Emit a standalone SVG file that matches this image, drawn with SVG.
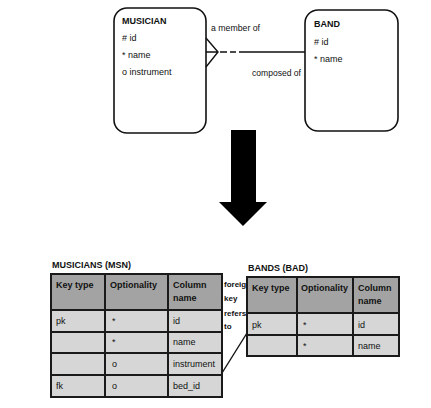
<svg xmlns="http://www.w3.org/2000/svg" width="431" height="408" viewBox="0 0 431 408">
<style>
.ent{fill:#fff;stroke:#111;stroke-width:1.6}
.t{font-family:"Liberation Sans",Arial,sans-serif;font-size:9px;fill:#111}
.b{font-weight:bold}
.s{font-size:8px}
.h{fill:#a3a3a3;stroke:#1a1a1a;stroke-width:2}
.c{fill:#d6d6d6;stroke:#1a1a1a;stroke-width:2}
.ln{stroke:#111;stroke-width:1.4;fill:none}
</style>
<rect width="431" height="408" fill="#fff"/>
<g id="musician">
<rect class="ent" x="114" y="8" width="92" height="125" rx="13"/>
<text class="t b" x="122" y="24">MUSICIAN</text>
<text class="t" x="122" y="41"># id</text>
<text class="t" x="122" y="58">* name</text>
<text class="t" x="122" y="75">o instrument</text>
</g>
<g id="band">
<rect class="ent" x="305" y="10" width="93" height="121" rx="13"/>
<text class="t b" x="314" y="27">BAND</text>
<text class="t" x="314" y="45"># id</text>
<text class="t" x="314" y="62">* name</text>
</g>
<g id="connectors">
<path class="ln" d="M206 38 L218 52 L206 67 M206 52 L218 52"/>
<path class="ln" d="M220 52 H227 M230 52 H236 M239 52 H305"/>
<text class="t" x="211" y="31" textLength="49" lengthAdjust="spacingAndGlyphs">a member of</text>
<text class="t" x="252" y="76" textLength="49" lengthAdjust="spacingAndGlyphs">composed of</text>
<path d="M231 130 H256 V202 H267 L243 226 L219 202 H231 Z" fill="#000"/>
<path class="ln" d="M222 373 L247 333"/>
<text class="t b s" x="224" y="287">foreign</text>
<text class="t b s" x="224" y="301">key</text>
<text class="t b s" x="224" y="316">refers</text>
<text class="t b s" x="224" y="329">to</text>
</g>
<g id="musicians-table">
<text class="t b" x="52" y="268">MUSICIANS (MSN)</text>
<rect class="h" x="51" y="274" width="54" height="36"/>
<rect class="h" x="105" y="274" width="63" height="36"/>
<rect class="h" x="168" y="274" width="54" height="36"/>
<rect class="c" x="51" y="310" width="54" height="22"/>
<rect class="c" x="105" y="310" width="63" height="22"/>
<rect class="c" x="168" y="310" width="54" height="22"/>
<rect class="c" x="51" y="332" width="54" height="21"/>
<rect class="c" x="105" y="332" width="63" height="21"/>
<rect class="c" x="168" y="332" width="54" height="21"/>
<rect class="c" x="51" y="353" width="54" height="22"/>
<rect class="c" x="105" y="353" width="63" height="22"/>
<rect class="c" x="168" y="353" width="54" height="22"/>
<rect class="c" x="51" y="375" width="54" height="22"/>
<rect class="c" x="105" y="375" width="63" height="22"/>
<rect class="c" x="168" y="375" width="54" height="22"/>
<text class="t b" x="56" y="288">Key type</text>
<text class="t b" x="110" y="288">Optionality</text>
<text class="t b" x="173" y="288">Column</text>
<text class="t b" x="173" y="301">name</text>
<text class="t" x="56" y="324">pk</text>
<text class="t" x="112" y="324">*</text>
<text class="t" x="173" y="324">id</text>
<text class="t" x="112" y="345">*</text>
<text class="t" x="173" y="345">name</text>
<text class="t" x="112" y="367">o</text>
<text class="t" x="173" y="367">instrument</text>
<text class="t" x="56" y="389">fk</text>
<text class="t" x="112" y="389">o</text>
<text class="t" x="173" y="389">bed_id</text>
</g>
<g id="bands-table">
<text class="t b" x="248" y="271">BANDS (BAD)</text>
<rect class="h" x="247" y="277" width="50" height="36"/>
<rect class="h" x="297" y="277" width="56" height="36"/>
<rect class="h" x="353" y="277" width="46" height="36"/>
<rect class="c" x="247" y="313" width="50" height="22"/>
<rect class="c" x="297" y="313" width="56" height="22"/>
<rect class="c" x="353" y="313" width="46" height="22"/>
<rect class="c" x="247" y="335" width="50" height="21"/>
<rect class="c" x="297" y="335" width="56" height="21"/>
<rect class="c" x="353" y="335" width="46" height="21"/>
<text class="t b" x="252" y="291">Key type</text>
<text class="t b" x="301" y="291">Optionality</text>
<text class="t b" x="358" y="291">Column</text>
<text class="t b" x="358" y="304">name</text>
<text class="t" x="252" y="328">pk</text>
<text class="t" x="303" y="328">*</text>
<text class="t" x="358" y="328">id</text>
<text class="t" x="303" y="349">*</text>
<text class="t" x="358" y="349">name</text>
</g>
</svg>
